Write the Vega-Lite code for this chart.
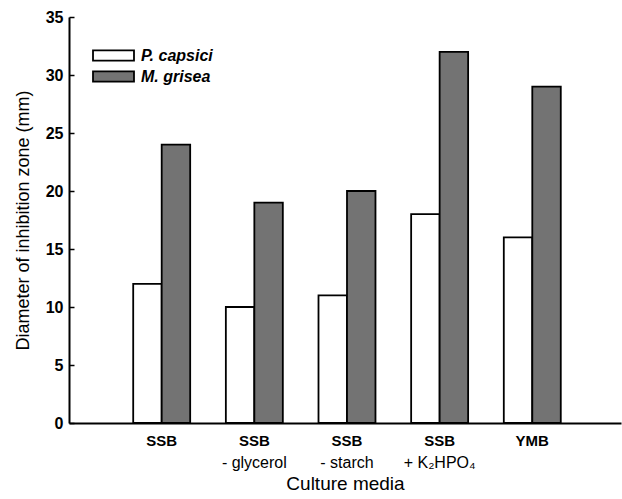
{
  "$schema": "https://vega.github.io/schema/vega-lite/v6.json",
  "width": 552,
  "height": 406,
  "autosize": {"type": "none"},
  "padding": {"left": 69, "top": 17, "right": 1, "bottom": 76},
  "background": "white",
  "config": {
    "font": "Liberation Sans",
    "view": {"stroke": null},
    "axis": {"domainColor": "black", "tickColor": "black", "labelColor": "black", "titleColor": "black", "grid": false, "domainWidth": 2, "tickWidth": 1.5}
  },
  "data": {
    "values": [
      {"media": "SSB", "organism": "P. capsici", "value": 12},
      {"media": "SSB", "organism": "M. grisea", "value": 24},
      {"media": "SSB|- glycerol", "organism": "P. capsici", "value": 10},
      {"media": "SSB|- glycerol", "organism": "M. grisea", "value": 19},
      {"media": "SSB|- starch", "organism": "P. capsici", "value": 11},
      {"media": "SSB|- starch", "organism": "M. grisea", "value": 20},
      {"media": "SSB|+ K₂HPO₄", "organism": "P. capsici", "value": 18},
      {"media": "SSB|+ K₂HPO₄", "organism": "M. grisea", "value": 32},
      {"media": "YMB", "organism": "P. capsici", "value": 16},
      {"media": "YMB", "organism": "M. grisea", "value": 29}
    ]
  },
  "layer": [
    {
      "mark": {"type": "bar", "stroke": "black", "strokeWidth": 1.8},
      "encoding": {
        "x": {
          "field": "media", "type": "nominal",
          "sort": ["SSB", "SSB|- glycerol", "SSB|- starch", "SSB|+ K₂HPO₄", "YMB"],
          "scale": {"paddingInner": 0.385, "paddingOuter": 0.6715, "align": 0.516},
          "axis": {
            "labelExpr": "split(datum.label, '|')[0]",
            "labelAngle": 0, "labelFontWeight": "bold", "labelFontSize": 15, "labelPadding": 10,
            "ticks": false, "title": "Culture media", "titleFontSize": 19, "titleFontWeight": "normal", "titlePadding": 26
          }
        },
        "xOffset": {"field": "organism", "type": "nominal", "sort": ["P. capsici", "M. grisea"], "scale": {"paddingInner": 0, "paddingOuter": 0}},
        "y": {
          "field": "value", "type": "quantitative",
          "scale": {"domain": [0, 35], "nice": false},
          "axis": {
            "values": [0, 5, 10, 15, 20, 25, 30, 35],
            "tickSize": -5, "labelFontWeight": "bold", "labelFontSize": 16, "labelPadding": 11,
            "title": "Diameter of inhibition zone (mm)", "titleFontSize": 18, "titleFontWeight": "normal", "titlePadding": 13
          }
        },
        "fill": {
          "field": "organism", "type": "nominal",
          "scale": {"domain": ["P. capsici", "M. grisea"], "range": ["white", "#737373"]},
          "legend": {
            "orient": "none", "legendX": 33, "legendY": 27, "title": null,
            "symbolType": "M-2,-0.5H2V0.5H-2Z", "symbolSize": 420,
            "symbolStrokeColor": "black", "symbolStrokeWidth": 1.8,
            "labelFontStyle": "italic", "labelFontWeight": "bold", "labelFontSize": 16, "labelOffset": 16, "labelColor": "black",
            "rowPadding": 0
          }
        }
      }
    },
    {
      "mark": {"type": "text", "text": ""},
      "encoding": {
        "x": {
          "field": "media", "type": "nominal",
          "sort": ["SSB", "SSB|- glycerol", "SSB|- starch", "SSB|+ K₂HPO₄", "YMB"],
          "axis": {
            "orient": "bottom",
            "labelExpr": "length(split(datum.label, '|')) > 1 ? split(datum.label, '|')[1] : ''",
            "labelAngle": 0, "labelFontWeight": "normal", "labelFontSize": 16, "labelPadding": 31,
            "ticks": false, "domain": false, "title": null
          }
        },
        "y": {"field": "value", "type": "quantitative"}
      }
    }
  ],
  "resolve": {"axis": {"x": "independent"}}
}
